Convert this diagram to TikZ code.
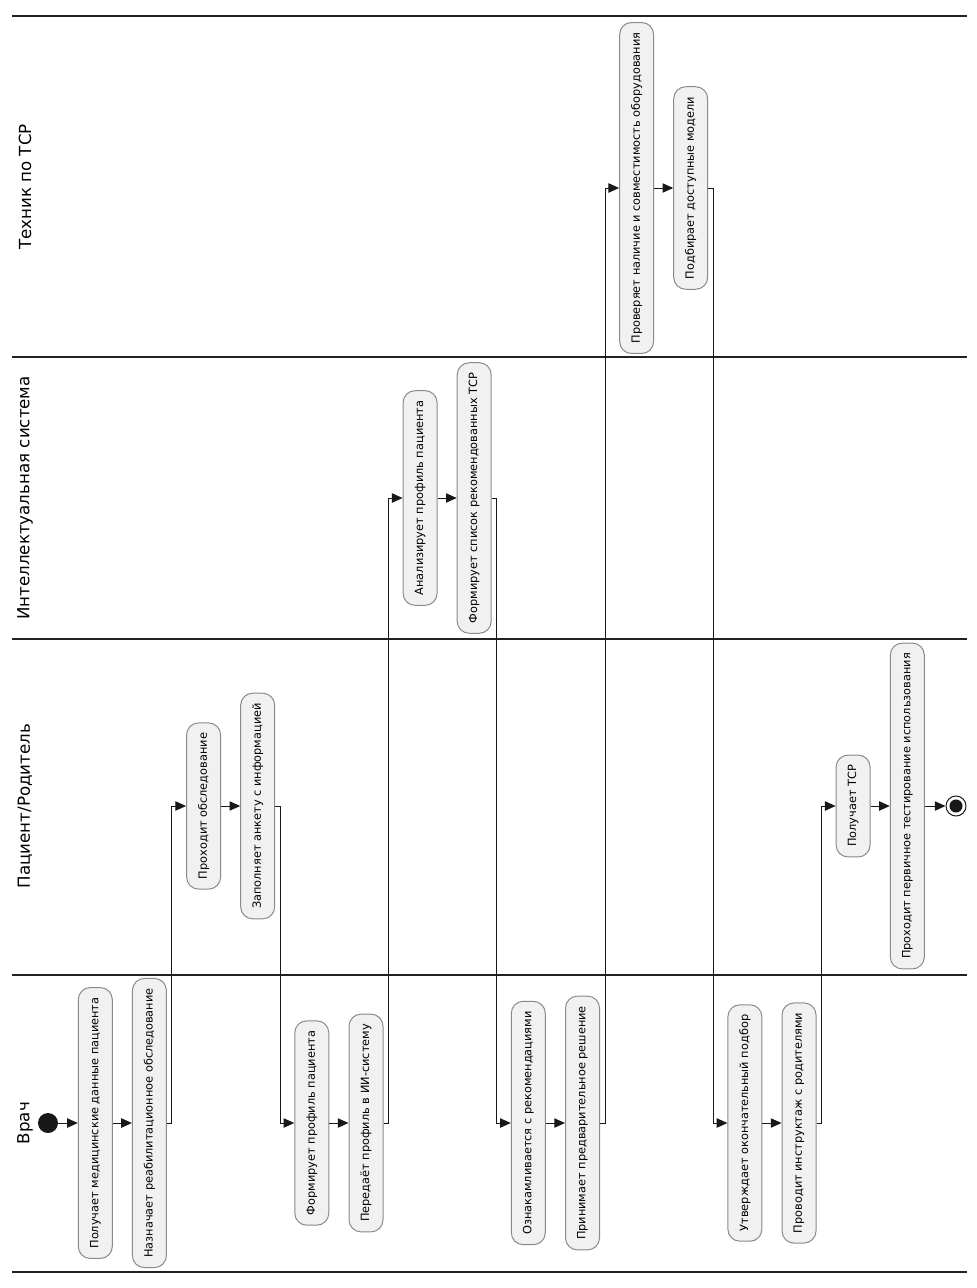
\documentclass[tikz,border=0pt]{standalone}
\usepackage{fontspec}
\setmainfont{DejaVu Sans}
\usetikzlibrary{arrows.meta}

\definecolor{actfill}{HTML}{F1F1F1}
\definecolor{actline}{HTML}{8A8A8A}
\definecolor{laneline}{HTML}{222222}
\definecolor{ink}{HTML}{181818}

\begin{document}
\begin{tikzpicture}[x=0.75pt,y=-0.75pt,
  act/.style={draw=actline,fill=actfill,line width=0.75pt,rounded corners=9pt,
    rotate=90,minimum height=25.5pt,inner xsep=7.5pt,inner ysep=0pt,
    font=\fontsize{8.5}{10}\selectfont,anchor=center},
  lane/.style={draw=laneline,line width=1.5pt},
  lanetitle/.style={rotate=90,font=\fontsize{12.5}{15}\selectfont,anchor=center},
  flow/.style={draw=ink,line width=0.75pt,-{Triangle[length=8pt,width=7pt]}},
  startnode/.style={circle,fill=ink,minimum size=15pt,inner sep=0pt},
  endnode/.style={circle,draw=ink,fill=white,line width=0.75pt,minimum size=15pt,inner sep=0pt}]
\useasboundingbox (0,0) rectangle (977,1288);

% swimlanes
\draw[lane] (12,16) -- (967,16);
\draw[lane] (12,357) -- (967,357);
\draw[lane] (12,639) -- (967,639);
\draw[lane] (12,975) -- (967,975);
\draw[lane] (12,1272) -- (967,1272);
\node[lanetitle] (tech) at (25,187) {Техник по ТСР};
\node[lanetitle] (ai) at (25,498) {Интеллектуальная система};
\node[lanetitle] (patient) at (25,806) {Пациент/Родитель};
\node[lanetitle] (doctor) at (25,1123) {Врач};

% actions
\node[startnode] (start) at (48,1123) {};
\node[act] (getdata) at (95.3,1123) {Получает медицинские данные пациента};
\node[act] (assign) at (149.4,1123) {Назначает реабилитационное обследование};
\node[act] (exam) at (203.6,806) {Проходит обследование};
\node[act] (survey) at (257.7,806) {Заполняет анкету с информацией};
\node[act] (profile) at (311.8,1123) {Формирует профиль пациента};
\node[act] (send) at (366.0,1123) {Передаёт профиль в ИИ-систему};
\node[act] (analyze) at (420.1,498) {Анализирует профиль пациента};
\node[act] (recommend) at (474.2,498) {Формирует список рекомендованных ТСР};
\node[act] (review) at (528.3,1123) {Ознакамливается с рекомендациями};
\node[act] (decide) at (582.5,1123) {Принимает предварительное решение};
\node[act] (check) at (636.6,188) {Проверяет наличие и совместимость оборудования};
\node[act] (select) at (690.7,188) {Подбирает доступные модели};
\node[act] (approve) at (744.9,1123) {Утверждает окончательный подбор};
\node[act] (instruct) at (799.0,1123) {Проводит инструктаж с родителями};
\node[act] (receive) at (853.1,806) {Получает ТСР};
\node[act] (test) at (907.3,806) {Проходит первичное тестирование использования};
\node[endnode] (stop) at (956,806) {};
\fill[ink] (stop.center) circle (4.9pt);

% flow
\draw[flow] (start) -- (getdata.north);
\draw[flow] (getdata.south) -- (assign.north);
\draw[flow] (assign.south) -- ++(5,0) |- (exam.north);
\draw[flow] (exam.south) -- (survey.north);
\draw[flow] (survey.south) -- ++(5,0) |- (profile.north);
\draw[flow] (profile.south) -- (send.north);
\draw[flow] (send.south) -- ++(5,0) |- (analyze.north);
\draw[flow] (analyze.south) -- (recommend.north);
\draw[flow] (recommend.south) -- ++(5,0) |- (review.north);
\draw[flow] (review.south) -- (decide.north);
\draw[flow] (decide.south) -- ++(5,0) |- (check.north);
\draw[flow] (check.south) -- (select.north);
\draw[flow] (select.south) -- ++(5,0) |- (approve.north);
\draw[flow] (approve.south) -- (instruct.north);
\draw[flow] (instruct.south) -- ++(5,0) |- (receive.north);
\draw[flow] (receive.south) -- (test.north);
\draw[flow] (test.south) -- (stop);
\end{tikzpicture}
\end{document}
